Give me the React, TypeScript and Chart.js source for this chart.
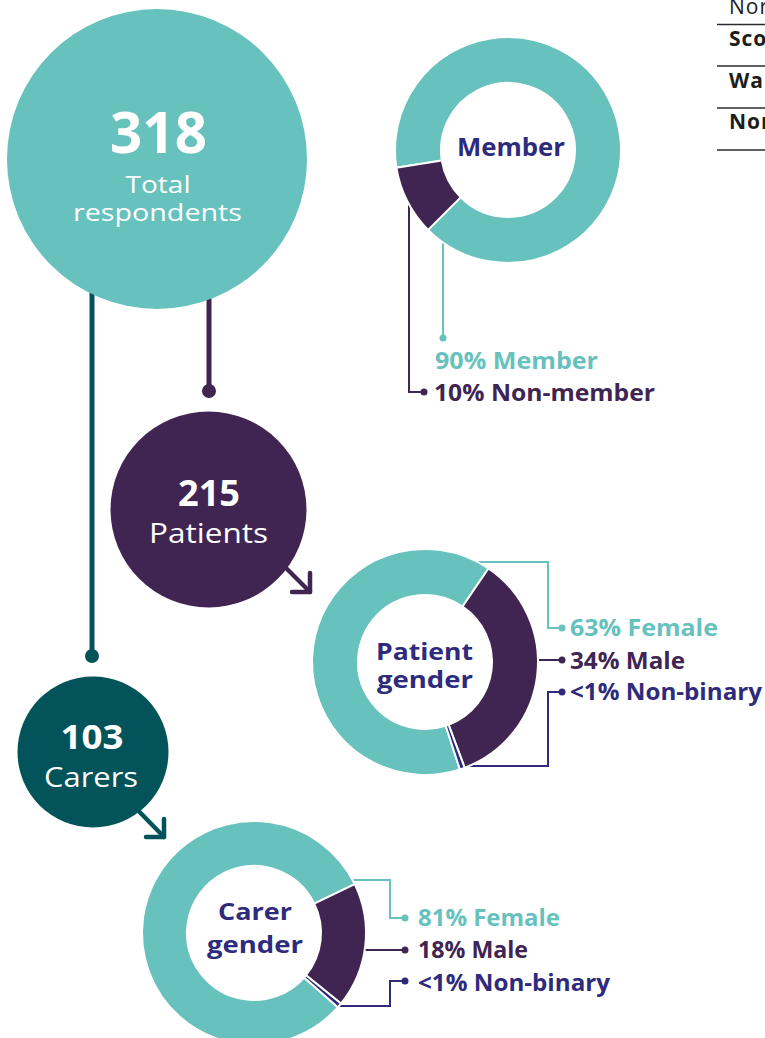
import React, { useEffect, useRef } from "react";
import { Chart, registerables } from "chart.js";

Chart.register(...registerables);

// ---------- colours ----------
const TEAL = "#67c1bd";
const PURPLE = "#402552";
const INDIGO = "#2e2b7c";
const DARK_TEAL = "#03535a";
const FONT = "'Open Sans', 'DejaVu Sans', sans-serif";

// ---------- data ----------
const respondentGroups = ["Total respondents", "Patients", "Carers"];
const respondentCounts = [318, 215, 103];

const memberLabels = ["Member", "Non-member"];
const memberValues = [90, 10];

const genderLabels = ["Female", "Male", "Non-binary"];
const patientGenderValues = [63, 34, 0.7];
const carerGenderValues = [81, 18, 0.7];

const tableRowLabels = ["North West", "Scotland", "Wales", "Northern Ireland"];

const pct = (v: number) => (v < 1 ? "<1%" : `${v}%`);

type DonutProps = {
  labels: string[];
  values: number[];
  colors: string[];
  rotation: number;
  cx: number;
  cy: number;
  radius: number;
  hole: number;
};

function Donut({ labels, values, colors, rotation, cx, cy, radius, hole }: DonutProps) {
  const ref = useRef<HTMLCanvasElement>(null);
  const size = Math.ceil(radius * 2 + 10);
  useEffect(() => {
    const chart = new Chart(ref.current as HTMLCanvasElement, {
      type: "doughnut",
      data: {
        labels,
        datasets: [
          {
            data: values,
            backgroundColor: colors,
            borderColor: "#ffffff",
            borderWidth: 2,
            hoverOffset: 0,
            radius,
            rotation,
            cutout: `${(hole / radius) * 100}%`,
          } as any,
        ],
      },
      options: {
        responsive: false,
        maintainAspectRatio: false,
        animation: false,
        events: [],
        layout: { padding: 0 },
        plugins: { legend: { display: false }, tooltip: { enabled: false } },
      },
    });
    return () => chart.destroy();
  }, []);
  return (
    <canvas
      ref={ref}
      width={size}
      height={size}
      style={{ position: "absolute", left: cx - size / 2, top: cy - size / 2, width: size, height: size }}
    />
  );
}

type TProps = {
  x: number;
  y: number;
  w: number;
  size: number;
  weight?: number;
  color: string;
  anchor?: "start" | "middle";
  children: React.ReactNode;
};

function T({ x, y, w, size, weight = 700, color, anchor = "start", children }: TProps) {
  return (
    <text
      x={x}
      y={y}
      textLength={w}
      lengthAdjust="spacingAndGlyphs"
      fontFamily={FONT}
      fontSize={size}
      fontWeight={weight}
      fill={color}
      textAnchor={anchor}
    >
      {children}
    </text>
  );
}

export default function App() {
  const [totalWord1, totalWord2] = respondentGroups[0].split(" ");
  return (
    <div
      style={{
        position: "fixed",
        left: 0,
        top: 0,
        width: 765,
        height: 1038,
        overflow: "hidden",
        background: "#ffffff",
      }}
    >
      <svg width={765} height={1038} style={{ position: "absolute", left: 0, top: 0 }}>
        {/* table fragment (top right) */}
        {[24.5, 66, 108, 150].map((y) => (
          <line key={y} x1={717} y1={y} x2={765} y2={y} stroke="#2b2b2b" strokeWidth={1.5} />
        ))}
        {tableRowLabels.map((label, i) => (
          <text
            key={label}
            x={729}
            y={[14, 46, 88, 129][i]}
            fontFamily={FONT}
            fontSize={21}
            fontWeight={i === 0 ? 400 : 700}
            fill="#1d1d1b"
            style={{ letterSpacing: "1px" }}
          >
            {label}
          </text>
        ))}

        {/* connectors from total */}
        <line x1={92} y1={250} x2={92} y2={656} stroke={DARK_TEAL} strokeWidth={5} />
        <circle cx={92} cy={656} r={7} fill={DARK_TEAL} />
        <line x1={209} y1={250} x2={209} y2={391} stroke={PURPLE} strokeWidth={5} />
        <circle cx={209} cy={391} r={7} fill={PURPLE} />

        {/* total circle */}
        <circle cx={157} cy={159} r={150} fill={TEAL} />
        <T x={158.5} y={153} w={97} size={58} color="#ffffff" anchor="middle">
          {String(respondentCounts[0])}
        </T>
        <T x={158} y={193} w={65} size={24} weight={500} color="#ffffff" anchor="middle">
          {totalWord1}
        </T>
        <T x={157.5} y={220.5} w={169} size={24} weight={500} color="#ffffff" anchor="middle">
          {totalWord2}
        </T>

        {/* patients */}
        <polyline points="270,552 310,592" stroke={PURPLE} strokeWidth={4.5} strokeLinecap="round" fill="none" />
        <polyline
          points="310,573 310,592 292,592"
          stroke={PURPLE}
          strokeWidth={4.5}
          strokeLinecap="round"
          strokeLinejoin="round"
          fill="none"
        />
        <circle cx={208.5} cy={509.5} r={98} fill={PURPLE} />
        <T x={209} y={506} w={62} size={36} color="#ffffff" anchor="middle">
          {String(respondentCounts[1])}
        </T>
        <T x={208.5} y={543} w={119} size={28} weight={500} color="#ffffff" anchor="middle">
          {respondentGroups[1]}
        </T>

        {/* carers */}
        <polyline points="125,797 164,837" stroke={DARK_TEAL} strokeWidth={4.5} strokeLinecap="round" fill="none" />
        <polyline
          points="164,819 164,837 146,837"
          stroke={DARK_TEAL}
          strokeWidth={4.5}
          strokeLinecap="round"
          strokeLinejoin="round"
          fill="none"
        />
        <circle cx={93} cy={752} r={75.5} fill={DARK_TEAL} />
        <T x={92} y={749} w={63} size={34} color="#ffffff" anchor="middle">
          {String(respondentCounts[2])}
        </T>
        <T x={91} y={787} w={94} size={28} weight={500} color="#ffffff" anchor="middle">
          {respondentGroups[2]}
        </T>

        {/* member donut labels and leaders */}
        <T x={511} y={156} w={108} size={25} color={INDIGO} anchor="middle">
          {memberLabels[0]}
        </T>
        <polyline points="443,235 443,338" stroke={TEAL} strokeWidth={2} fill="none" />
        <circle cx={443} cy={338} r={3.5} fill={TEAL} />
        <polyline points="409,200 409,392 424,392" stroke={PURPLE} strokeWidth={2} fill="none" />
        <circle cx={424} cy={392} r={3.5} fill={PURPLE} />
        <T x={435} y={369} w={163} size={24} color={TEAL}>
          {`${pct(memberValues[0])} ${memberLabels[0]}`}
        </T>
        <T x={434} y={401} w={221} size={24} color={PURPLE}>
          {`${pct(memberValues[1])} ${memberLabels[1]}`}
        </T>

        {/* patient gender labels and leaders */}
        <T x={424.5} y={660} w={97} size={24} color={INDIGO} anchor="middle">
          Patient
        </T>
        <T x={425} y={688} w={96} size={24} color={INDIGO} anchor="middle">
          gender
        </T>
        <polyline points="474,562 548,562 548,628 562,628" stroke={TEAL} strokeWidth={2} fill="none" />
        <circle cx={562} cy={628} r={3.5} fill={TEAL} />
        <polyline points="534,660 562,660" stroke={PURPLE} strokeWidth={2} fill="none" />
        <circle cx={562} cy={660} r={3.5} fill={PURPLE} />
        <polyline points="462,766 548,766 548,692 562,692" stroke={INDIGO} strokeWidth={2} fill="none" />
        <circle cx={562} cy={692} r={3.5} fill={INDIGO} />
        <T x={570} y={636} w={148} size={24} color={TEAL}>
          {`${pct(patientGenderValues[0])} ${genderLabels[0]}`}
        </T>
        <T x={570} y={669} w={115} size={24} color={PURPLE}>
          {`${pct(patientGenderValues[1])} ${genderLabels[1]}`}
        </T>
        <T x={570} y={700} w={192} size={24} color={INDIGO}>
          {`${pct(patientGenderValues[2])} ${genderLabels[2]}`}
        </T>

        {/* carer gender labels and leaders */}
        <T x={255} y={920} w={74} size={24} color={INDIGO} anchor="middle">
          Carer
        </T>
        <T x={255} y={953} w={96} size={24} color={INDIGO} anchor="middle">
          gender
        </T>
        <polyline points="350,880 390,880 390,918 405,918" stroke={TEAL} strokeWidth={2} fill="none" />
        <circle cx={405} cy={918} r={3.5} fill={TEAL} />
        <polyline points="362,950 405,950" stroke={PURPLE} strokeWidth={2} fill="none" />
        <circle cx={405} cy={950} r={3.5} fill={PURPLE} />
        <polyline points="332,1006 390,1006 390,981 405,981" stroke={INDIGO} strokeWidth={2} fill="none" />
        <circle cx={405} cy={981} r={3.5} fill={INDIGO} />
        <T x={418} y={926} w={142} size={24} color={TEAL}>
          {`${pct(carerGenderValues[0])} ${genderLabels[0]}`}
        </T>
        <T x={418} y={958} w={110} size={24} color={PURPLE}>
          {`${pct(carerGenderValues[1])} ${genderLabels[1]}`}
        </T>
        <T x={418} y={991} w={192} size={24} color={INDIGO}>
          {`${pct(carerGenderValues[2])} ${genderLabels[2]}`}
        </T>
      </svg>

      <Donut
        labels={memberLabels}
        values={memberValues}
        colors={[TEAL, PURPLE]}
        rotation={261}
        cx={507.5}
        cy={149.5}
        radius={113}
        hole={67}
      />
      <Donut
        labels={genderLabels}
        values={patientGenderValues}
        colors={[TEAL, PURPLE, INDIGO]}
        rotation={162}
        cx={424.5}
        cy={662}
        radius={113}
        hole={67}
      />
      <Donut
        labels={genderLabels}
        values={carerGenderValues}
        colors={[TEAL, PURPLE, INDIGO]}
        rotation={131.6}
        cx={254}
        cy={933}
        radius={112}
        hole={67}
      />
    </div>
  );
}
